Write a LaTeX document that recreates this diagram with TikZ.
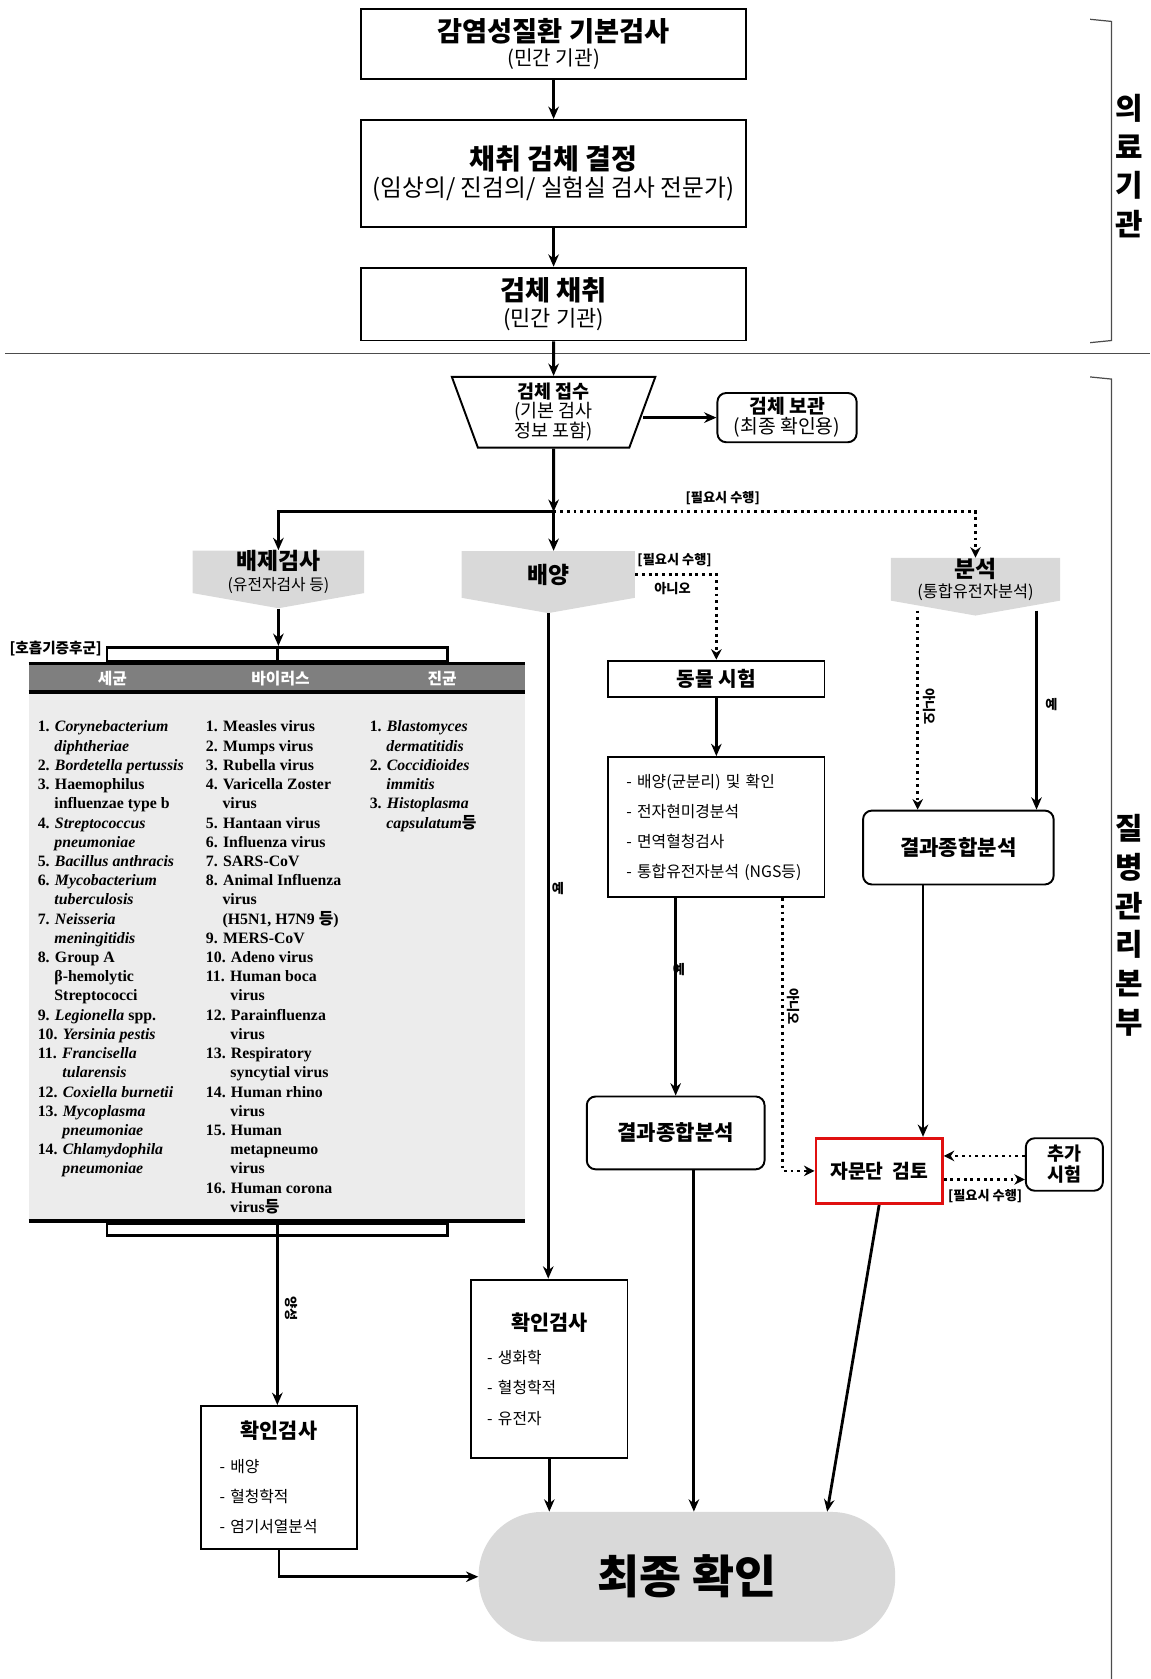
\documentclass[tikz,border=0pt]{standalone}
\usepackage{fontspec}
\setmainfont{Noto Sans CJK KR}
\newfontfamily\kr{Noto Sans CJK KR}
\newfontfamily\tnr{Liberation Serif}
\usetikzlibrary{arrows.meta,calc,positioning,shapes.geometric,shapes.symbols}
\definecolor{bannergray}{HTML}{D9D9D9}
\definecolor{tablegray}{HTML}{ECECEC}
\definecolor{headgray}{HTML}{7F7F7F}
\definecolor{advred}{HTML}{E01010}
\newcommand\ind{\hspace*{1.05em}}
\newcommand\indd{\hspace*{1.55em}}

\begin{document}
\begin{tikzpicture}[x=0.02141cm, y=-0.02141cm,
  boxsize/.style 2 args={minimum width=#1*0.02141cm, minimum height=#2*0.02141cm},
  stepbox/.style={draw, line width=1.1pt, align=center, inner sep=0pt},
  roundbox/.style={stepbox, rounded corners=5pt},
  banner/.style={signal, signal to=south, signal pointer angle=160, fill=bannergray, align=center, inner sep=0pt},
  flow/.style={line width=1.6pt, -{Stealth[length=7pt,width=6pt]}},
  maybe/.style={line width=1.6pt, dash pattern=on 1.6pt off 2.2pt, -{Stealth[length=6pt,width=6pt]}},
  tag/.style={font=\bfseries\fontsize{7.5}{8}\selectfont, inner sep=1pt},
  sidetext/.style={font=\bfseries\fontsize{17}{22}\selectfont, align=center, inner sep=0pt},
  headtext/.style={font=\bfseries\fontsize{9}{10}\selectfont, text=white, inner sep=0pt},
  germlist/.style={anchor=north west, align=left, inner sep=0pt, font=\tnr\bfseries\fontsize{9}{10.93}\selectfont}]

\useasboundingbox (0,0) rectangle (1074,1568);

\node[stepbox, boxsize={359}{66}, font=\fontsize{11.5}{14}\selectfont] (basic) at (517,41) {{\bfseries\fontsize{15.5}{15}\selectfont 감염성질환 기본검사}\\(민간 기관)};
\node[stepbox, boxsize={359}{100}, font=\fontsize{13.5}{15.5}\selectfont] (decide) at (517,162) {{\bfseries\fontsize{16}{15}\selectfont 채취 검체 결정}\\(임상의/ 진검의/ 실험실 검사 전문가)};
\node[stepbox, boxsize={359}{68}, font=\fontsize{12.5}{15}\selectfont] (collect) at (517,284) {{\bfseries\fontsize{15.5}{15}\selectfont 검체 채취}\\(민간 기관)};

\draw[line width=0.8pt, black!70] (5,330) -- (1074,330);
\draw[line width=0.7pt, black!70] (1018,18) -- (1038,20) -- (1038,318) -- (1018,320);
\node[sidetext] (clinic) at (1055,155) {의\\료\\기\\관};
\draw[line width=0.7pt, black!70] (1018,352) -- (1038,354) -- (1038,1568);
\node[sidetext] (kcdc) at (1055,864) {질\\병\\관\\리\\본\\부};

\node[trapezium, shape border rotate=180, trapezium left angle=66, trapezium right angle=66, trapezium stretches body, draw, line width=1.1pt, boxsize={190}{66}, align=center, inner sep=0pt, font=\fontsize{10.5}{10.5}\selectfont] (receive) at (517,385) {{\bfseries 검체 접수}\\(기본 검사\\정보 포함)};
\node[roundbox, boxsize={130}{46}, font=\fontsize{11}{11.5}\selectfont] (store) at (735,390) {{\bfseries 검체 보관}\\(최종 확인용)};
\coordinate (split) at (517,478);

\node[banner, boxsize={160}{42}, font=\fontsize{9}{11.5}\selectfont] (exclude) at (260,534) {{\bfseries\fontsize{13}{12}\selectfont 배제검사}\\(유전자검사 등)};
\node[banner, boxsize={162}{47}, font=\bfseries\fontsize{13}{12}\selectfont] (culture) at (512,536.5) {배양};
\node[banner, boxsize={158}{42}, font=\fontsize{9.3}{11.5}\selectfont] (analysis) at (911,541) {{\bfseries\fontsize{13}{12}\selectfont 분석}\\(통합유전자분석)};

\node[tag, font=\bfseries\fontsize{8.3}{9}\selectfont] (resp) at (52,606) {[호흡기증후군]};
\node[draw, line width=1.6pt, fill=white, boxsize={318}{13}, inner sep=0pt] (tabtop) at (259,611) {};
\draw[line width=1.6pt] (tabtop.north) -- (tabtop.south);
\node[fill=tablegray, boxsize={463}{520}, inner sep=0pt] (germs) at (258.5,880) {};
\node[fill=headgray, anchor=north, boxsize={463}{26}, inner sep=0pt] (head) at (germs.north) {};
\draw[line width=2pt] (germs.north west) -- (germs.north east);
\draw[line width=2.6pt] (head.south west) -- (head.south east);
\draw[line width=2.6pt] (germs.south west) -- (germs.south east);
\node[headtext] (bact) at (105,634) {세균};
\node[headtext] (virus) at (262,634) {바이러스};
\node[headtext] (fungi) at (413,634) {진균};
\node[draw, line width=1.6pt, fill=white, boxsize={318}{11}, inner sep=0pt] (tabbot) at (259,1148) {};
\draw[line width=1.6pt] (tabbot.north) -- (tabbot.south);

\node[germlist] (col1) at (35,673) {1. \textit{Corynebacterium}\\ \ind\textit{diphtheriae}\\ 2. \textit{Bordetella pertussis}\\ 3. Haemophilus\\ \ind influenzae type b\\ 4. \textit{Streptococcus}\\ \ind\textit{pneumoniae}\\ 5. \textit{Bacillus anthracis}\\ 6. \textit{Mycobacterium}\\ \ind\textit{tuberculosis}\\ 7. \textit{Neisseria}\\ \ind\textit{meningitidis}\\ 8. Group A\\ \ind β-hemolytic\\ \ind Streptococci\\ 9. \textit{Legionella} spp.\\ 10. \textit{Yersinia pestis}\\ 11. \textit{Francisella}\\ \indd\textit{tularensis}\\ 12. \textit{Coxiella burnetii}\\ 13. \textit{Mycoplasma}\\ \indd\textit{pneumoniae}\\ 14. \textit{Chlamydophila}\\ \indd\textit{pneumoniae}};
\node[germlist] (col2) at (192,673) {1. Measles virus\\ 2. Mumps virus\\ 3. Rubella virus\\ 4. Varicella Zoster\\ \ind virus\\ 5. Hantaan virus\\ 6. Influenza virus\\ 7. SARS-CoV\\ 8. Animal Influenza\\ \ind virus\\ \ind (H5N1, H7N9 {\kr 등})\\ 9. MERS-CoV\\ 10. Adeno virus\\ 11. Human boca\\ \indd virus\\ 12. Parainfluenza\\ \indd virus\\ 13. Respiratory\\ \indd syncytial virus\\ 14. Human rhino\\ \indd virus\\ 15. Human\\ \indd metapneumo\\ \indd virus\\ 16. Human corona\\ \indd virus{\kr 등}};
\node[germlist] (col3) at (345,673) {1. \textit{Blastomyces}\\ \ind\textit{dermatitidis}\\ 2. \textit{Coccidioides}\\ \ind\textit{immitis}\\ 3. \textit{Histoplasma}\\ \ind\textit{capsulatum}{\kr 등}};

\node[stepbox, boxsize={202}{34}, font=\bfseries\fontsize{11.5}{12}\selectfont] (animal) at (669,634) {동물 시험};
\node[stepbox, boxsize={202}{131}, align=left, text width=168*0.02141cm, font=\fontsize{9}{17}\selectfont] (list) at (669,772.5) {- 배양(균분리) 및 확인\\- 전자현미경분석\\- 면역혈청검사\\- 통합유전자분석 (NGS등)};
\node[roundbox, boxsize={166}{68}, font=\bfseries\fontsize{12}{13}\selectfont] (result1) at (631,1058) {결과종합분석};
\node[roundbox, boxsize={178}{69}, font=\bfseries\fontsize{12}{13}\selectfont] (result2) at (895,791.5) {결과종합분석};
\node[stepbox, draw=advred, line width=1.6pt, boxsize={118}{61}, font=\bfseries\fontsize{11}{12}\selectfont] (advise) at (821,1093.5) {자문단~~검토};
\node[roundbox, boxsize={72}{49}, font=\bfseries\fontsize{10.5}{12}\selectfont] (extra) at (994,1087.5) {추가\\시험};

\node[stepbox, boxsize={146}{167}, align=left, text width=116*0.02141cm, font=\fontsize{9}{17.3}\selectfont] (confirmR) at (513,1278.5) {\hfill{\bfseries\fontsize{11.8}{13}\selectfont 확인검사}\hfill\null\\[1.5pt]- 생화학\\- 혈청학적\\- 유전자};
\node[stepbox, boxsize={145}{134}, align=left, text width=111*0.02141cm, font=\fontsize{9}{17.3}\selectfont] (confirmL) at (260.5,1380) {\hfill{\bfseries\fontsize{11.8}{13}\selectfont 확인검사}\hfill\null\\[1.5pt]- 배양\\- 혈청학적\\- 염기서열분석};
\node[fill=bannergray, rounded corners=36pt, boxsize={389}{121}, inner sep=0pt, font=\bfseries\fontsize{26}{28}\selectfont] (final) at (641.5,1472.5) {최종 확인};

\draw[flow] (basic) -- (decide);
\draw[flow] (decide) -- (collect);
\draw[flow] (collect) -- (receive);
\draw[flow] (receive.east |- store.west) -- (store.west);
\draw[flow] (receive) -- (split);
\draw[flow] (split) -- (split |- culture.north);
\draw[flow] (split) -| (exclude.north);
\draw[maybe] (split) -| (analysis.north);
\node[tag] (needA) at (675,465) {[필요시 수행]};

\draw[flow] (exclude.south) -- (exclude.south |- tabtop.north);
\draw[flow] (tabbot.south) -- (tabbot.south |- confirmL.north);
\node[tag, rotate=-90] (posL) at (272,1222) {양성};
\draw[flow] (confirmL.south) |- (final.west);

\draw[flow] (culture.south) -- (culture.south |- confirmR.north);
\node[tag] (yesC) at (521,830) {예};
\draw[flow] (confirmR.south) -- (confirmR.south |- final.north);

\draw[maybe] (culture.east) -| (animal.north);
\node[tag] (needB) at (630,523) {[필요시 수행]};
\node[tag] (noC) at (628,550) {아니오};
\draw[flow] (animal) -- (list);
\draw[flow] (list.south -| result1.north) -- (result1.north);
\node[tag] (yesL) at (634,905) {예};
\coordinate (ngs) at ($(list.south east)+(-40,0)$);
\draw[maybe] (ngs) |- (advise.west);
\node[tag, rotate=-90] (noL) at (741,940) {아니오};
\coordinate (r1out) at ($(result1.south)+(17,0)$);
\draw[flow] (r1out) -- (r1out |- final.north);

\coordinate (noA) at ($(analysis.south)+(-54,-5)$);
\coordinate (yesA) at ($(analysis.south)+(57,-5)$);
\draw[maybe] (noA) -- (noA |- result2.north);
\draw[flow] (yesA) -- (yesA |- result2.north);
\node[tag, rotate=-90] (noAl) at (868,660) {아니오};
\node[tag] (yesAl) at (982,658) {예};
\coordinate (r2out) at ($(result2.south)+(-33,0)$);
\draw[flow] (r2out) -- (r2out |- advise.north);

\coordinate (extraout) at ($(extra.west)+(0,-8)$);
\coordinate (adviseout) at ($(advise.east)+(0,8)$);
\draw[maybe] (extraout) -- (extraout -| advise.east);
\draw[maybe] (adviseout) -- (adviseout -| extra.west);
\node[tag] (needC) at (920,1117) {[필요시 수행]};
\draw[flow] (advise.south) -- ($(final.north)+(131,0)$);

\end{tikzpicture}
\end{document}
